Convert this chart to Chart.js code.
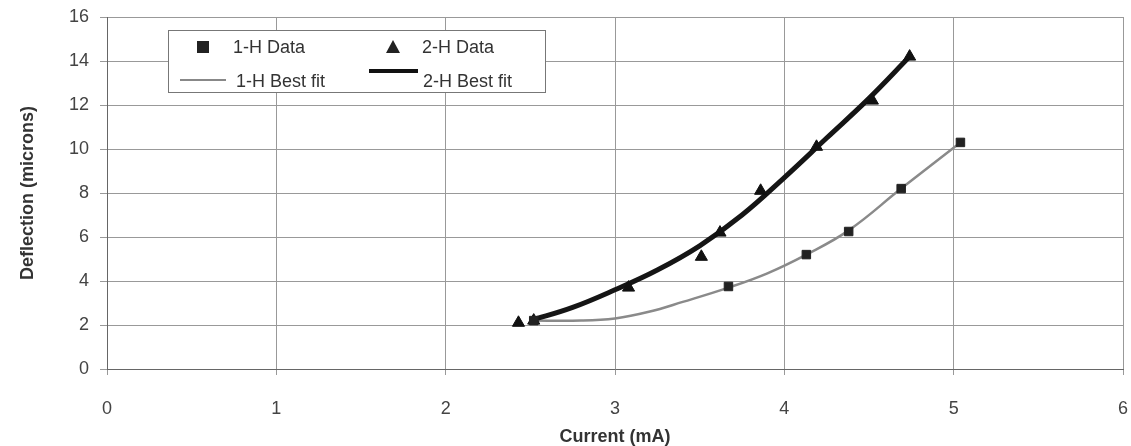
<!DOCTYPE html>
<html>
<head>
<meta charset="utf-8">
<script src="https://cdn.jsdelivr.net/npm/chart.js@4.4.1/dist/chart.umd.min.js"></script>
<style>
  html, body { margin: 0; padding: 0; background: #fff; }
  #wrap { width: 1131px; height: 446px; }
</style>
</head>
<body>
<div id="wrap"><canvas id="chart" width="1131" height="446"></canvas></div>
<script>
var oneH_x = [2.52, 3.67, 4.13, 4.38, 4.69, 5.04];
var oneH_y = [2.2, 3.75, 5.2, 6.25, 8.2, 10.3];
var twoH_x = [2.43, 2.52, 3.08, 3.51, 3.62, 3.86, 4.19, 4.52, 4.74];
var twoH_y = [2.1, 2.2, 3.7, 5.1, 6.2, 8.1, 10.1, 12.2, 14.2];

// best fit curves
var fit1_x = [2.5, 2.8, 3.0, 3.2, 3.4, 3.67, 3.9, 4.13, 4.38, 4.69, 5.04];
var fit1_y = [2.2, 2.2, 2.3, 2.6, 3.05, 3.7, 4.35, 5.2, 6.3, 8.2, 10.3];
var fit2_x = [2.5, 2.75, 3.0, 3.25, 3.5, 3.75, 4.0, 4.25, 4.5, 4.74];
var fit2_y = [2.2, 2.8, 3.6, 4.5, 5.6, 7.0, 8.7, 10.5, 12.3, 14.2];

var xTicks = [0, 1, 2, 3, 4, 5, 6];
var yTicks = [0, 2, 4, 6, 8, 10, 12, 14, 16];

function pts(xs, ys) {
  var out = [];
  for (var i = 0; i < xs.length; i++) {
    out.push({x: xs[i], y: ys[i]});
  }
  return out;
}

// legend drawn inside the plot like the original
var boxLegend = {
  id: 'boxLegend',
  afterDraw: function(chart) {
    var ctx = chart.ctx;
    ctx.save();
    ctx.fillStyle = '#fff';
    ctx.fillRect(168, 30, 377, 62);
    ctx.strokeStyle = '#777';
    ctx.lineWidth = 1;
    ctx.strokeRect(168.5, 30.5, 377, 62);

    ctx.fillStyle = '#222';
    ctx.fillRect(197, 41, 12, 12);
    ctx.beginPath();
    ctx.moveTo(393, 40);
    ctx.lineTo(400, 53);
    ctx.lineTo(386, 53);
    ctx.closePath();
    ctx.fill();

    ctx.strokeStyle = '#888';
    ctx.lineWidth = 2;
    ctx.beginPath();
    ctx.moveTo(180, 80);
    ctx.lineTo(226, 80);
    ctx.stroke();

    ctx.strokeStyle = '#111';
    ctx.lineWidth = 4;
    ctx.beginPath();
    ctx.moveTo(369, 71);
    ctx.lineTo(418, 71);
    ctx.stroke();

    ctx.fillStyle = '#333';
    ctx.font = '18px "Liberation Sans", Arial, sans-serif';
    ctx.textBaseline = 'middle';
    ctx.fillText('1-H Data', 233, 48);
    ctx.fillText('1-H Best fit', 236, 82);
    ctx.fillText('2-H Data', 422, 48);
    ctx.fillText('2-H Best fit', 423, 82);
    ctx.restore();
  }
};

var ctx = document.getElementById('chart').getContext('2d');
var myChart = new Chart(ctx, {
  type: 'scatter',
  data: {
    datasets: [
      {
        label: '1-H Data',
        data: pts(oneH_x, oneH_y),
        pointStyle: 'rect',
        pointRadius: 6,
        backgroundColor: '#222',
        borderColor: '#222',
        order: 1
      },
      {
        label: '2-H Data',
        data: pts(twoH_x, twoH_y),
        pointStyle: 'triangle',
        pointRadius: 7,
        backgroundColor: '#111',
        borderColor: '#111',
        order: 1
      },
      {
        label: '1-H Best fit',
        data: pts(fit1_x, fit1_y),
        showLine: true,
        pointRadius: 0,
        borderColor: '#8a8a8a',
        borderWidth: 2.5,
        tension: 0.4,
        order: 3
      },
      {
        label: '2-H Best fit',
        data: pts(fit2_x, fit2_y),
        showLine: true,
        pointRadius: 0,
        borderColor: '#151515',
        borderWidth: 5,
        tension: 0.4,
        order: 2
      }
    ]
  },
  options: {
    responsive: false,
    animation: false,
    layout: { padding: { top: 17, right: 4, left: 0, bottom: 0 } },
    plugins: {
      legend: { display: false },
      tooltip: { enabled: false }
    },
    scales: {
      x: {
        type: 'linear',
        min: 0,
        max: 6,
        afterBuildTicks: function(scale) {
          scale.ticks = xTicks.map(function(v) { return {value: v}; });
        },
        afterFit: function(scale) {
          scale.height = 77;
          scale.paddingLeft = 0;
          scale.paddingRight = 0;
        },
        grid: { color: '#999', tickLength: 6, lineWidth: 1 },
        border: { color: '#666', width: 1 },
        ticks: {
          color: '#444',
          padding: 23,
          font: { family: '"Liberation Sans", Arial, sans-serif', size: 18 }
        },
        title: {
          display: true,
          text: 'Current (mA)',
          color: '#333',
          padding: { top: 6, bottom: -2 },
          font: { family: '"Liberation Sans", Arial, sans-serif', size: 18, weight: 'bold' }
        }
      },
      y: {
        min: 0,
        max: 16,
        afterBuildTicks: function(scale) {
          scale.ticks = yTicks.map(function(v) { return {value: v}; });
        },
        afterFit: function(scale) {
          scale.width = 107;
          scale.paddingTop = 0;
          scale.paddingBottom = 0;
        },
        grid: { color: '#999', tickLength: 7, lineWidth: 1 },
        border: { color: '#666', width: 1 },
        ticks: {
          color: '#444',
          padding: 11,
          font: { family: '"Liberation Sans", Arial, sans-serif', size: 18 }
        },
        title: {
          display: true,
          text: 'Deflection (microns)',
          color: '#333',
          padding: { top: 17, bottom: 0 },
          font: { family: '"Liberation Sans", Arial, sans-serif', size: 18, weight: 'bold' }
        }
      }
    }
  },
  plugins: [boxLegend]
});
</script>
</body>
</html>
